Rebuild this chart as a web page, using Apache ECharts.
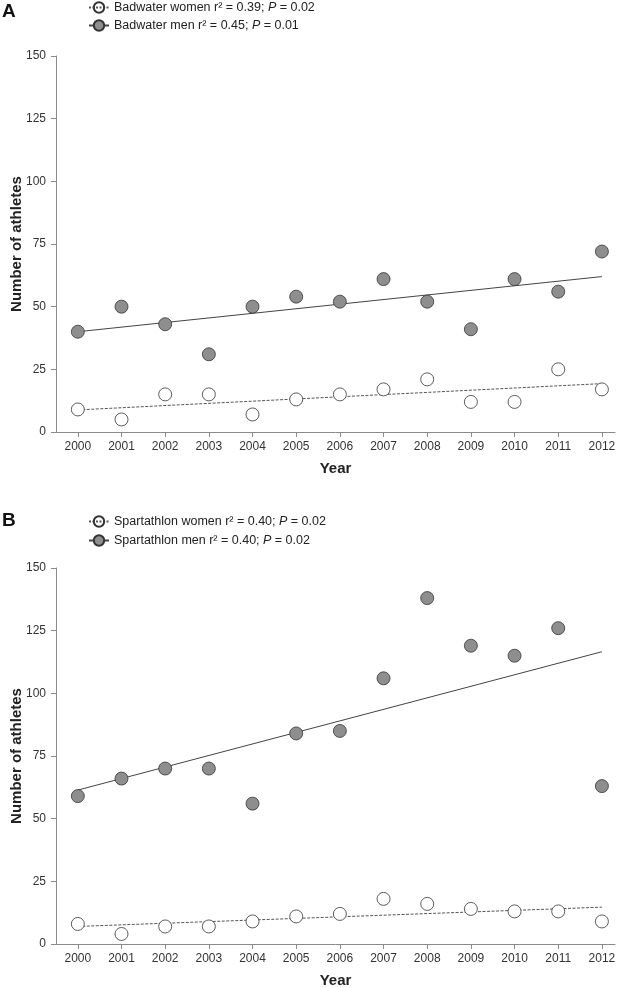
<!DOCTYPE html>
<html>
<head>
<meta charset="utf-8">
<script src="https://cdn.jsdelivr.net/npm/echarts@6/dist/echarts.min.js"></script>
<style>html,body{margin:0;padding:0;background:#fff;}#c{width:624px;height:988px;}</style>
</head>
<body>
<div id="c"></div>
<script>
const years = [2000,2001,2002,2003,2004,2005,2006,2007,2008,2009,2010,2011,2012];
const yTicks = [0,25,50,75,100,125,150];
const badwaterWomen = [9,5,15,15,7,13,15,17,21,12,12,25,17];
const badwaterMen = [40,50,43,31,50,54,52,61,52,41,61,56,72];
const spartathlonWomen = [8,4,7,7,9,11,12,18,16,14,13,13,9];
const spartathlonMen = [59,66,70,70,56,84,85,106,138,119,115,126,63];
// regression line end values (at 2000 and 2012)
const fitYears = [2000, 2012];
const badwaterWomenFit = [8.8, 19.3];
const badwaterMenFit = [40.0, 62.0];
const spartathlonWomenFit = [7.0, 14.7];
const spartathlonMenFit = [61.4, 116.6];
const legendA = ['Badwater women r\u00B2 = 0.39; {i|P} = 0.02', 'Badwater men r\u00B2 = 0.45; {i|P} = 0.01'];
const legendB = ['Spartathlon women r\u00B2 = 0.40; {i|P} = 0.02', 'Spartathlon men r\u00B2 = 0.40; {i|P} = 0.02'];

const FONT = 'Liberation Sans, Arial, sans-serif';
const axisColor = '#8a8a8a';
const labelColor = '#333';
const menFill = '#8e8e8e';
const edge = '#333';

const pts = (vals) => years.map((y, i) => [y, vals[i]]);
const fit = (vals) => fitYears.map((y, i) => [y, vals[i]]);

function xAx(idx) {
  return {
    type: 'value', gridIndex: idx, min: 1999.5, max: 2012.3,
    name: 'Year', nameLocation: 'middle', nameGap: 29, nameMoveOverlap: false,
    nameTextStyle: {fontFamily: FONT, fontSize: 15, fontWeight: 'bold', color: '#222'},
    axisLine: {show: true, lineStyle: {color: axisColor, width: 1}},
    axisTick: {show: true, length: 5, lineStyle: {color: axisColor}, customValues: years},
    axisLabel: {customValues: years, formatter: (v) => String(Math.round(v)),
      color: labelColor, fontFamily: FONT, fontSize: 12, margin: 9},
    splitLine: {show: false}
  };
}
function yAx(idx) {
  return {
    type: 'value', gridIndex: idx, min: 0, max: 150, interval: 25,
    name: 'Number of athletes', nameLocation: 'middle', nameGap: 32, nameMoveOverlap: false,
    nameTextStyle: {fontFamily: FONT, fontSize: 15, fontWeight: 'bold', color: '#222'},
    axisLine: {show: true, lineStyle: {color: axisColor, width: 1}},
    axisTick: {show: true, length: 5, lineStyle: {color: axisColor}},
    axisLabel: {color: labelColor, fontFamily: FONT, fontSize: 12, margin: 10},
    splitLine: {show: false}
  };
}
function scatter(name, idx, vals, filled) {
  return {
    type: 'scatter', name: name, xAxisIndex: idx, yAxisIndex: idx, data: pts(vals),
    symbol: 'circle', symbolSize: 13, z: 3,
    itemStyle: {color: filled ? menFill : '#fff', borderColor: edge, borderWidth: 0.8, opacity: 1}
  };
}
function fitLine(name, idx, vals, dashed) {
  return {
    type: 'line', name: name, xAxisIndex: idx, yAxisIndex: idx, data: fit(vals),
    symbol: 'none', z: 2, silent: true,
    lineStyle: {color: dashed ? '#555' : '#444', width: 1, type: dashed ? [3, 1.5] : 'solid'}
  };
}
function legendSeries(name, filled, dashed) {
  return {
    type: 'line', name: name, xAxisIndex: 0, yAxisIndex: 0, data: [],
    symbol: 'circle', symbolSize: 13,
    itemStyle: {color: filled ? menFill : 'rgba(255,255,255,0)', borderColor: edge, borderWidth: 0.8},
    lineStyle: {color: dashed ? '#555' : '#444', width: 1, type: dashed ? [2, 1.5] : 'solid'}
  };
}
function legend(names, top, gap) {
  return {
    data: names, orient: 'vertical', left: 88, top: top, padding: 0,
    itemWidth: 20, itemHeight: 13, itemGap: gap, selectedMode: false,
    textStyle: {fontFamily: FONT, fontSize: 12.5, color: '#222',
      rich: {i: {fontStyle: 'italic', fontFamily: FONT, fontSize: 12.5, color: '#222'}}}
  };
}

const chart = echarts.init(document.getElementById('c'), null, {renderer: 'canvas'});
chart.setOption({
  backgroundColor: '#fff',
  animation: false,
  graphic: [
    {type: 'text', left: 2, top: 2, style: {text: 'A', font: 'bold 19px ' + FONT, fill: '#111'}},
    {type: 'text', left: 2, top: 511, style: {text: 'B', font: 'bold 19px ' + FONT, fill: '#111'}}
  ],
  legend: [legend(legendA, 1, 5), legend(legendB, 515, 6)],
  grid: [
    {left: 56, right: 9, top: 56, height: 376, containLabel: false, outerBoundsMode: 'none'},
    {left: 56, right: 9, top: 568, height: 376, containLabel: false, outerBoundsMode: 'none'}
  ],
  xAxis: [xAx(0), xAx(1)],
  yAxis: [yAx(0), yAx(1)],
  series: [
    legendSeries(legendA[0], false, true),
    legendSeries(legendA[1], true, false),
    legendSeries(legendB[0], false, true),
    legendSeries(legendB[1], true, false),
    fitLine('bwWomenFit', 0, badwaterWomenFit, true),
    fitLine('bwMenFit', 0, badwaterMenFit, false),
    fitLine('spWomenFit', 1, spartathlonWomenFit, true),
    fitLine('spMenFit', 1, spartathlonMenFit, false),
    scatter('bwWomen', 0, badwaterWomen, false),
    scatter('bwMen', 0, badwaterMen, true),
    scatter('spWomen', 1, spartathlonWomen, false),
    scatter('spMen', 1, spartathlonMen, true)
  ]
});
</script>
</body>
</html>
